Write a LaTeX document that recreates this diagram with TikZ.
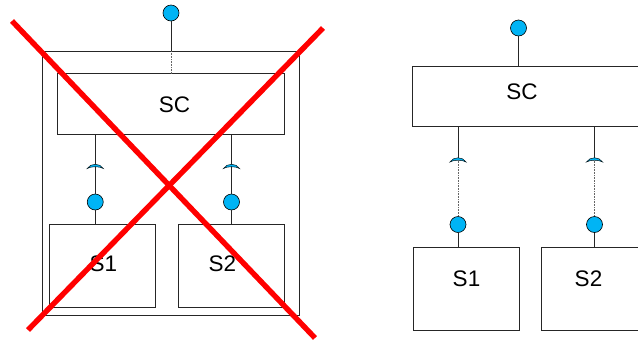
\documentclass[tikz,border=0pt]{standalone}
\usepackage{fontspec}
\setmainfont{Liberation Sans}
\definecolor{pinblue}{HTML}{00B4F5}
\tikzset{
  x=1pt,y=-1pt,
  wire/.style={draw=black!85,line width=0.65pt},
  dotwire/.style={draw=black!60,line width=0.6pt,dash pattern=on 0.8pt off 0.8pt},
  boxn/.style={draw=black!85,line width=0.65pt,fill=white,inner sep=0,minimum width=#1},
  pin/.style={circle,draw=black,line width=0.6pt,fill=pinblue,inner sep=0,minimum size=16pt},
  lab/.style={inner sep=0,font=\fontsize{22.5}{23}\selectfont},
  cross/.style={draw=red,line width=5.4pt},
  pics/crescent/.style={code={
    \fill[pinblue,draw=black!90!pinblue,line width=0.5pt] (-8,3) .. controls (-5,-2.6) and (5,-2.6) .. (8,3) .. controls (4.5,0.6) and (-4.5,0.6) .. cycle;
  }}
}
\begin{document}
\begin{tikzpicture}
\useasboundingbox (0,0) rectangle (638,341);
\clip (0,0) rectangle (638,341);
% left assembly
\node[boxn=257pt,minimum height=264.5pt] (outer) at (171,183.25) {};
\node[boxn=227pt,minimum height=61pt] (lsc) at (171,104) {};
\node[boxn=106pt,minimum height=83pt] (ls1) at (102.75,266) {};
\node[boxn=106pt,minimum height=83pt] (ls2) at (231.5,266) {};
\node[pin] (ltop) at (171,13) {};
\node[pin] (lp1) at (95.25,202) {};
\node[pin] (lp2) at (231.5,202) {};
\coordinate (louttop) at (171,51);
\coordinate (lsctop) at (171,73.5);
\coordinate (la1) at (95.25,134.5);
\coordinate (la2) at (231.5,134.5);
\coordinate (lb1) at (95.25,224.5);
\coordinate (lb2) at (231.5,224.5);
\draw[wire] (ltop) -- (louttop);
\draw[dotwire] (louttop) -- (lsctop);
\draw[wire] (la1) -- (lp1);
\draw[wire] (la2) -- (lp2);
\draw[wire] (lp1) -- (lb1);
\draw[wire] (lp2) -- (lb2);
\pic at (95.25,165.5) {crescent};
\pic at (231.5,165.5) {crescent};
\node[lab] (tlsc) at (174.5,105) {SC};
\node[lab] (tls1) at (103.5,264) {S1};
\node[lab] (tls2) at (222.5,264) {S2};
% right assembly
\node[boxn=240pt,minimum height=60.5pt] (rsc) at (532.5,96.25) {};
\node[boxn=106pt,minimum height=83pt] (rs1) at (466,289) {};
\node[boxn=106pt,minimum height=83pt] (rs2) at (594.5,289) {};
\node[pin] (rtop) at (518.5,28) {};
\node[pin] (rp1) at (458,224.5) {};
\node[pin] (rp2) at (594.5,224.5) {};
\coordinate (ra1) at (458,126.5);
\coordinate (ra2) at (594.5,126.5);
\coordinate (rc1) at (458,159);
\coordinate (rc2) at (594.5,159);
\coordinate (rb1) at (458,247.5);
\coordinate (rb2) at (594.5,247.5);
\coordinate (rsctop) at (518.5,66);
\draw[wire] (rtop) -- (rsctop);
\draw[wire] (ra1) -- (rc1);
\draw[wire] (ra2) -- (rc2);
\draw[dotwire] (rc1) -- (rp1);
\draw[dotwire] (rc2) -- (rp2);
\draw[wire] (rp1) -- (rb1);
\draw[wire] (rp2) -- (rb2);
\pic at (458,159) {crescent};
\pic at (594.5,159) {crescent};
\node[lab] (trsc) at (522,92) {SC};
\node[lab] (trs1) at (466.5,279) {S1};
\node[lab] (trs2) at (588.5,279) {S2};
% red cross
\coordinate (x1a) at (12,21);
\coordinate (x1b) at (315,338);
\coordinate (x2a) at (323,28);
\coordinate (x2b) at (28,330);
\draw[cross] (x1a) -- (x1b);
\draw[cross] (x2a) -- (x2b);
\end{tikzpicture}
\end{document}
